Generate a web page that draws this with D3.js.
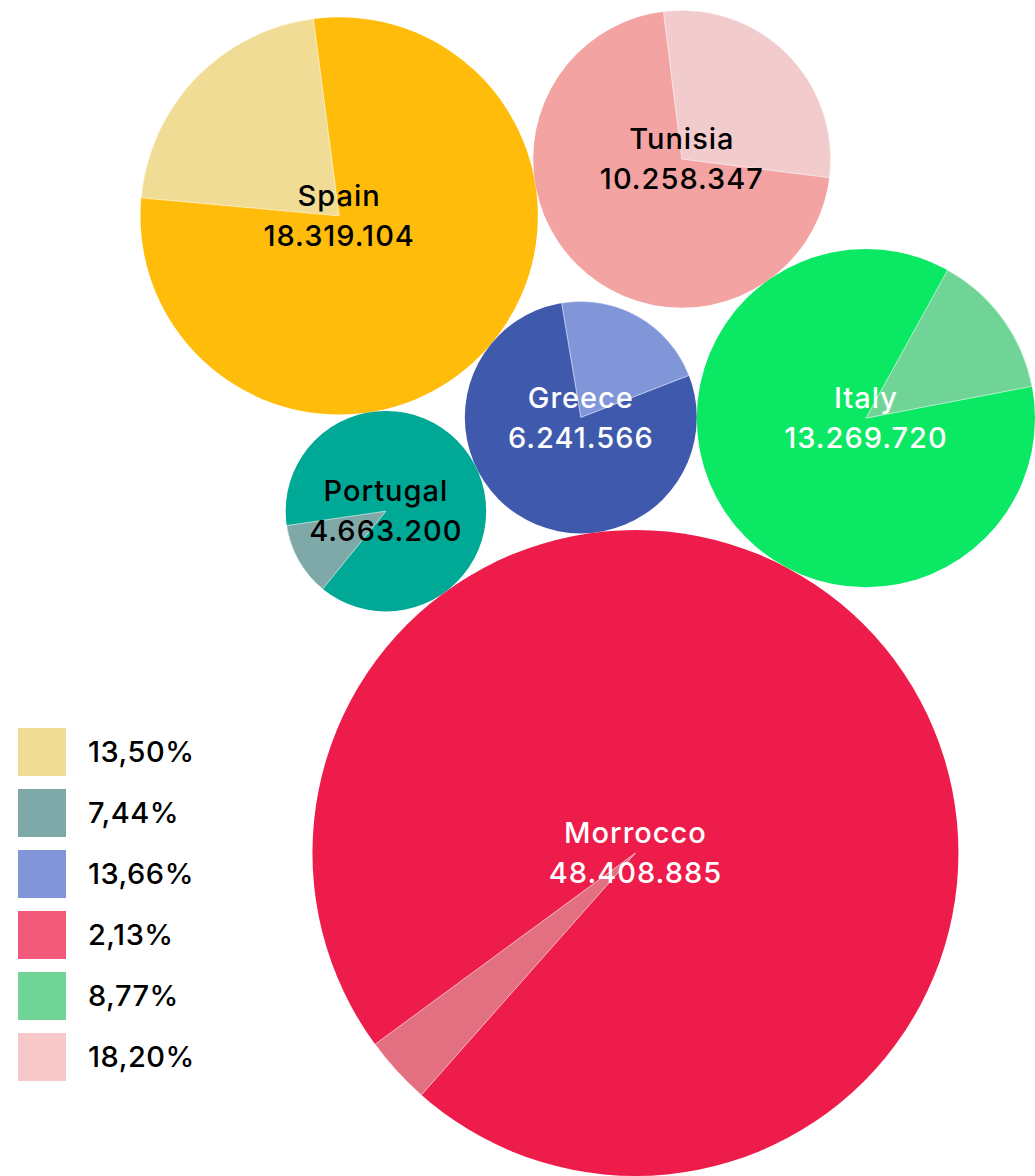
<script src="https://d3js.org/d3.v7.min.js"></script>

<style>
  body {
    margin: 0;
    background-color: #ffffff;
  }
  * {
    font-family: 'Inter', sans-serif;
  }
</style>

<div id="chart"></div>

<script>
  // data
  var countries = ["Spain", "Portugal", "Greece", "Morrocco", "Italy", "Tunisia"];
  var totals = [18319104, 4663200, 6241566, 48408885, 13269720, 10258347];
  var shares = [13.50, 7.44, 13.66, 2.13, 8.77, 18.20];

  // colours
  var mainColors = ["#ffbc0a", "#00a896", "#3f5aad", "#ee1c4b", "#0be863", "#f4a3a3"];
  var sliceColors = ["#f0dc94", "#7fa8a8", "#8096d9", "#e37080", "#6fd496", "#f2cccc"];
  var legendColors = ["#f0dc94", "#7fa8a8", "#8096d9", "#f15a7a", "#6fd496", "#f7c8ca"];
  var textColors = ["#000", "#000", "#fff", "#fff", "#fff", "#000"];

  // where each highlighted slice starts (degrees, clockwise from 12 o'clock)
  var sliceStart = [-84.8, 219.1, -9.5, 221.5, 28.9, -7.1];

  var width = 1035, height = 1176;
  var gap = 0;

  var svg = d3.select("#chart")
    .append("svg")
    .attr("width", width)
    .attr("height", height);

  var radius = d3.scaleSqrt()
    .domain([0, d3.max(totals)])
    .range([0, 323]);

  var nodes = countries.map(function (c, i) {
    return { name: c, value: totals[i], share: shares[i], r: radius(totals[i]), i: i };
  });

  // pack: each new bubble rests against two already placed ones
  function touch(a, b, c) {
    var dx = b.x - a.x, dy = b.y - a.y;
    var d = Math.sqrt(dx * dx + dy * dy);
    var da = a.r + c.r + gap, db = b.r + c.r + gap;
    var x = (d * d + da * da - db * db) / (2 * d);
    var h = Math.sqrt(Math.max(0, da * da - x * x));
    var ux = dx / d, uy = dy / d;
    c.x = a.x + x * ux + h * uy;
    c.y = a.y + x * uy - h * ux;
  }

  var first = nodes[0], second = nodes[1];
  var dir = 81 * Math.PI / 180;
  first.x = 0; first.y = 0;
  second.x = Math.cos(dir) * (first.r + second.r + gap);
  second.y = Math.sin(dir) * (first.r + second.r + gap);
  touch(nodes[0], nodes[1], nodes[2]); // Greece
  touch(nodes[2], nodes[1], nodes[3]); // Morrocco
  touch(nodes[2], nodes[3], nodes[4]); // Italy
  touch(nodes[0], nodes[4], nodes[5]); // Tunisia

  // pin the group to the bottom right corner
  var maxX = d3.max(nodes, function (d) { return d.x + d.r; });
  var maxY = d3.max(nodes, function (d) { return d.y + d.r; });
  nodes.forEach(function (d) {
    d.x += width - maxX;
    d.y += height - maxY;
  });

  var bubble = svg.selectAll("g.bubble")
    .data(nodes)
    .enter()
    .append("g")
    .attr("class", "bubble")
    .attr("transform", function (d) { return "translate(" + d.x + "," + d.y + ")"; });

  bubble.append("circle")
    .attr("r", function (d) { return d.r; })
    .attr("fill", function (d) { return mainColors[d.i]; });

  var arc = d3.arc().innerRadius(0);

  bubble.append("path")
    .attr("d", function (d) {
      var s = sliceStart[d.i] * Math.PI / 180;
      // slice angle in radians is share / 10
      return arc({ outerRadius: d.r, startAngle: s, endAngle: s + d.share / 10 });
    })
    .attr("fill", function (d) { return sliceColors[d.i]; })
    .attr("stroke", "#ffffff")
    .attr("stroke-opacity", 0.6)
    .attr("stroke-width", 1);

  var fmt = d3.formatLocale({ decimal: ",", thousands: ".", grouping: [3], currency: ["", ""] });
  var fmtInt = fmt.format(",d");
  var fmtPct = fmt.format(".2f");

  var labels = svg.selectAll("g.label")
    .data(nodes)
    .enter()
    .append("g")
    .attr("class", "label")
    .attr("transform", function (d) { return "translate(" + d.x + "," + d.y + ")"; })
    .style("fill", function (d) { return textColors[d.i]; })
    .style("font-size", "29px")
    .style("font-weight", 500)
    .style("letter-spacing", "1px")
    .attr("text-anchor", "middle");

  labels.append("text")
    .attr("y", -20)
    .attr("dy", "0.35em")
    .text(function (d) { return d.name; });

  labels.append("text")
    .attr("y", 20)
    .attr("dy", "0.35em")
    .text(function (d) { return fmtInt(d.value); });

  // legend
  var size = 48;
  var legend = svg.selectAll("g.legend")
    .data(nodes)
    .enter()
    .append("g")
    .attr("class", "legend")
    .attr("transform", function (d, i) { return "translate(18," + (728 + i * 61) + ")"; });

  legend.append("rect")
    .attr("width", size)
    .attr("height", size)
    .attr("fill", function (d) { return legendColors[d.i]; });

  legend.append("text")
    .attr("x", 70)
    .attr("y", size / 2)
    .attr("dy", "0.35em")
    .style("font-size", "29px")
    .style("font-weight", 500)
    .style("letter-spacing", "0.5px")
    .style("fill", "#000")
    .text(function (d) { return fmtPct(d.share) + "%"; });
</script>
